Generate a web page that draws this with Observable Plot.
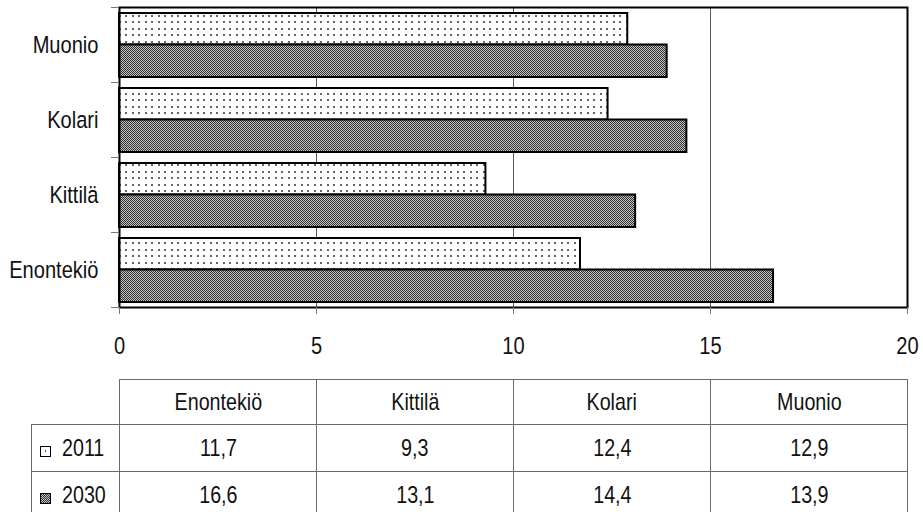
<!DOCTYPE html>
<html><head><meta charset="utf-8">
<script src="https://cdn.jsdelivr.net/npm/d3@7"></script>
<script src="https://cdn.jsdelivr.net/npm/@observablehq/plot@0.6"></script>
<style>
body{margin:0;background:#fff;font-family:"Liberation Sans",Arial,sans-serif;}
#wrap{position:relative;width:923px;height:512px;overflow:hidden;background:#fff;}
#chart{position:absolute;left:0;top:0;}
table{position:absolute;left:31px;top:379px;width:876px;border-collapse:collapse;table-layout:fixed;font-size:24px;color:#111;}
td{border:1px solid #6a6a6a;text-align:center;padding:0;white-space:nowrap;}
td span{display:inline-block;transform:scaleX(0.82);}
td.blank{border-top:none;border-left:none;}
td.lead{text-align:left;padding-left:8px;}
td.lead svg{vertical-align:-1px;margin-right:11px;}
td.lead span{transform-origin:left center;}
</style></head><body>
<div id="wrap"><div id="chart"></div><table id="tbl"></table></div>
<script>
const categories = ["Enontekiö", "Kittilä", "Kolari", "Muonio"];
const years = ["2011", "2030"];
const values2011 = [11.7, 9.3, 12.4, 12.9];
const values2030 = [16.6, 13.1, 14.4, 13.9];
const xTicks = [0, 5, 10, 15, 20];
const gridTicks = [5, 10, 15];
const fills = {"2011": "url(#dots)", "2030": "url(#dense)"};
const swatchFills = {"2011": "url(#dotSwatch)", "2030": "url(#dense)"};
const fmt = v => String(v).replace(".", ",");

const rows2011 = categories.map((c, i) => ({cat: c, year: "2011", v: values2011[i]}));
const rows2030 = categories.map((c, i) => ({cat: c, year: "2030", v: values2030[i]}));

const H = 372, mT = 7, mB = 65;
const half = (H - mT - mB) / categories.length / 2;

const defs = `<svg width="0" height="0" style="position:absolute"><defs>
  <pattern id="dots" patternUnits="userSpaceOnUse" width="13" height="13">
    <rect width="13" height="13" fill="#fff"/>
    <rect x="2" y="2" width="2" height="2" fill="#666"/>
    <rect x="8" y="2" width="2" height="2" fill="#666"/>
    <rect x="2" y="8" width="2" height="2" fill="#666"/>
    <rect x="8" y="8" width="2" height="2" fill="#666"/>
  </pattern>
  <pattern id="dotSwatch" patternUnits="userSpaceOnUse" width="11" height="11">
    <rect width="11" height="11" fill="#fff"/>
    <rect x="5" y="4" width="1" height="2" fill="#555"/>
  </pattern>
  <pattern id="dense" patternUnits="userSpaceOnUse" width="2" height="2">
    <rect width="2" height="2" fill="#c4c4c4"/>
    <rect x="0" y="0" width="1" height="1" fill="#303030"/>
    <rect x="1" y="1" width="1" height="1" fill="#303030"/>
  </pattern>
</defs></svg>`;
document.body.insertAdjacentHTML("afterbegin", defs);

const FS = 24.5;
const chart = Plot.plot({
  width: 923, height: H,
  marginLeft: 119, marginRight: 16, marginTop: mT, marginBottom: mB,
  style: {fontFamily: '"Liberation Sans",Arial,sans-serif', fontSize: FS + "px", color: "#111", background: "#fff"},
  x: {domain: [0, 20], label: null},
  y: {domain: [...categories].reverse(), padding: 0, label: null},
  marks: [
    Plot.ruleX(gridTicks, {stroke: "#5a5a5a", strokeWidth: 1}),
    Plot.barX(rows2011, {y: "cat", x: "v", fill: fills["2011"], stroke: "#000", strokeWidth: 2, insetTop: 6, insetBottom: half}),
    Plot.barX(rows2030, {y: "cat", x: "v", fill: fills["2030"], stroke: "#000", strokeWidth: 2, insetTop: half, insetBottom: 5}),
    Plot.frame({stroke: "#000", strokeWidth: 2}),
    Plot.axisX(xTicks, {tickSize: 7, tickPadding: 22, stroke: "#777", fontSize: FS}),
    Plot.axisY({tickSize: 0, tickPadding: 21, fontSize: FS}),
    Plot.axisY(categories, {tickSize: 8, tickFormat: () => "", dy: -half, stroke: "#777"}),
    Plot.axisY([categories[0]], {tickSize: 8, tickFormat: () => "", dy: half, stroke: "#777"})
  ]
});
// condensed (narrow) look for all chart texts
chart.querySelectorAll("text").forEach(t => {
  const tr = t.getAttribute("transform");
  if (tr) t.setAttribute("transform", tr + " scale(0.82,1)");
  else {
    const x = +t.getAttribute("x") || 0;
    t.setAttribute("transform", `translate(${x},0) scale(0.82,1) translate(${-x},0)`);
  }
});
document.getElementById("chart").appendChild(chart);

// data table below the chart
const tbl = document.getElementById("tbl");
const colgroup = document.createElement("colgroup");
[88, 197, 197, 197, 197].forEach(w => { const c = document.createElement("col"); c.style.width = w + "px"; colgroup.appendChild(c); });
tbl.appendChild(colgroup);
const head = document.createElement("tr");
head.style.height = "45px";
head.innerHTML = '<td class="blank"></td>' + categories.map(c => `<td><span>${c}</span></td>`).join("");
tbl.appendChild(head);
const series = {"2011": values2011, "2030": values2030};
const rowH = {"2011": 47, "2030": 46};
years.forEach(y => {
  const tr = document.createElement("tr");
  tr.style.height = rowH[y] + "px";
  const sw = `<svg width="11" height="11"><rect x="0.5" y="0.5" width="10" height="10" fill="${swatchFills[y]}" stroke="#000"/></svg>`;
  tr.innerHTML = `<td class="lead">${sw}<span>${y}</span></td>` + series[y].map(v => `<td><span>${fmt(v)}</span></td>`).join("");
  tbl.appendChild(tr);
});
</script>
</body></html>
